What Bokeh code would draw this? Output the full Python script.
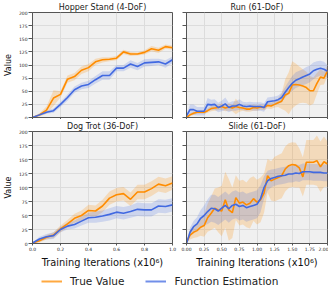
import numpy as np
from bokeh.plotting import figure
from bokeh.layouts import column, row
from bokeh.models import Range1d, FixedTicker, Legend, LegendItem
from bokeh.embed import file_html
from bokeh.resources import INLINE

# ---------------- data ----------------
x_1m = [0.00, 0.05, 0.10, 0.15, 0.20, 0.25, 0.30, 0.35, 0.40, 0.45, 0.50,
        0.55, 0.60, 0.65, 0.70, 0.75, 0.80, 0.85, 0.90, 0.95, 1.00]
x_2m = [0.00, 0.05, 0.10, 0.15, 0.20, 0.25, 0.30, 0.35, 0.40, 0.45, 0.50,
        0.55, 0.60, 0.65, 0.70, 0.75, 0.80, 0.85, 0.90, 0.95, 1.00,
        1.05, 1.10, 1.15, 1.20, 1.25, 1.30, 1.35, 1.40, 1.45, 1.50,
        1.55, 1.60, 1.65, 1.70, 1.75, 1.80, 1.85, 1.90, 1.95, 2.00]

hopper_true = [0, 5, 14, 37, 44, 73, 78, 90, 95, 106, 110, 111, 113, 125, 121, 121, 124, 131, 128, 135, 133]
hopper_true_sd = [1, 3, 7, 15, 6, 7, 7, 7, 7, 6, 5, 4, 4, 4, 4, 3, 4, 5, 5, 4, 4]
hopper_est = [0, 5, 10, 13, 25, 38, 53, 60, 63, 72, 80, 80, 94, 94, 102, 97, 104, 105, 106, 102, 110]
hopper_est_sd = [1, 2, 3, 4, 5, 6, 6, 6, 7, 7, 8, 8, 6, 6, 7, 7, 7, 7, 6, 7, 6]

run_true = [0, 5, 8, 10, 10, 10, 13, 17, 18, 19, 21, 18, 20, 18, 21, 19, 18, 16, 16, 19, 18,
            20, 19, 23, 22, 25, 28, 31, 43, 46, 62, 63, 62, 60, 57, 51, 51, 65, 77, 75, 89]
run_true_sd = [1, 3, 3, 3, 3, 3, 4, 5, 5, 5, 6, 6, 7, 6, 15, 8, 5, 5, 5, 6, 5,
               5, 5, 6, 6, 6, 8, 15, 30, 40, 45, 40, 35, 32, 30, 28, 25, 20, 15, 12, 10]
run_est = [3, 15, 15, 12, 12, 12, 25, 24, 25, 19, 22, 26, 19, 22, 22, 25, 22, 21, 22, 21, 21,
           21, 19, 30, 31, 32, 34, 38, 48, 57, 65, 71, 74, 77, 80, 83, 89, 92, 94, 92, 88]
run_est_sd = [3, 10, 10, 8, 8, 8, 12, 10, 10, 9, 10, 12, 9, 9, 9, 10, 8, 8, 8, 8, 8,
              8, 8, 8, 8, 8, 8, 9, 10, 12, 14, 15, 15, 15, 16, 16, 16, 15, 14, 14, 12]

dog_true = [1, 5, 11, 15, 26, 35, 45, 50, 59, 58, 67, 81, 87, 89, 79, 92, 92, 98, 106, 103, 108]
dog_true_sd = [1, 3, 4, 5, 6, 7, 8, 9, 10, 10, 11, 12, 12, 12, 12, 13, 13, 13, 13, 13, 12]
dog_est = [1, 8, 12, 14, 25, 31, 34, 40, 46, 47, 49, 52, 56, 54, 57, 61, 60, 60, 67, 66, 69]
dog_est_sd = [1, 4, 5, 6, 5, 6, 7, 8, 9, 10, 10, 11, 11, 11, 11, 12, 12, 12, 12, 12, 12]

slide_true = [2, 15, 20, 23, 29, 32, 46, 54, 63, 60, 58, 78, 60, 55, 82, 72, 74, 69, 72, 80, 74,
              78, 90, 121, 112, 115, 118, 121, 133, 139, 141, 140, 135, 119, 145, 145, 145, 148, 137, 146, 142]
slide_true_sd = [2, 8, 10, 12, 15, 20, 25, 30, 35, 40, 45, 50, 55, 45, 40, 40, 40, 40, 45, 40, 40,
                 40, 35, 30, 35, 40, 40, 40, 40, 40, 40, 40, 35, 35, 40, 40, 40, 45, 45, 45, 40]
slide_est = [0, 20, 30, 35, 45, 50, 57, 63, 62, 58, 63, 68, 62, 68, 70, 66, 68, 64, 66, 68, 70,
             80, 100, 112, 116, 118, 120, 121, 122, 124, 124, 126, 125, 128, 128, 128, 127, 127, 127, 126, 126]
slide_est_sd = [1, 8, 10, 12, 15, 18, 22, 24, 25, 25, 25, 25, 25, 25, 25, 25, 25, 25, 25, 25, 25,
                24, 20, 18, 16, 15, 15, 15, 15, 15, 15, 15, 15, 15, 15, 15, 15, 15, 15, 15, 15]

y_ticks = [0, 25, 50, 75, 100, 125, 150, 175, 200]
x_ticks_1m = [0.0, 0.2, 0.4, 0.6, 0.8, 1.0]
x_labels_1m = ["0.0", "0.2", "0.4", "0.6", "0.8", "1.0"]
x_ticks_2m = [0.0, 0.25, 0.5, 0.75, 1.0, 1.25, 1.5, 1.75, 2.0]
x_labels_2m = ["0.00", "0.25", "0.50", "0.75", "1.00", "1.25", "1.50", "1.75", "2.00"]

ORANGE = "#ff8c00"
BLUE = "#4169e1"
FONT = "DejaVu Sans"


def panel(title, x, true, true_sd, est, est_sd, xmax, xt, xl, show_x, show_y,
          fw, fh, bl, br):
    p = figure(frame_width=fw, frame_height=fh, output_backend="svg",
               toolbar_location=None, x_range=Range1d(0, xmax), y_range=Range1d(0, 200),
               min_border_left=bl, min_border_right=br, min_border_top=0, min_border_bottom=0,
               background_fill_color="#f0f0f0", border_fill_color="white")
    p.title.text = title
    p.title.align = "center"
    p.title.text_font = FONT
    p.title.text_font_size = "8px"
    p.title.text_font_style = "normal"
    p.title.text_color = "#222222"
    p.title.standoff = 1
    p.outline_line_color = "#555555"
    p.outline_line_width = 1
    p.grid.grid_line_color = "#dcdcdc"
    p.grid.grid_line_width = 1

    t = np.array(true, float); ts = np.array(true_sd, float)
    e = np.array(est, float); es = np.array(est_sd, float)
    p.varea(x=x, y1=t - ts, y2=t + ts, fill_color=ORANGE, fill_alpha=0.22)
    p.varea(x=x, y1=e - es, y2=e + es, fill_color=BLUE, fill_alpha=0.2)
    p.line(x=x, y=true, line_color=ORANGE, line_width=1.6)
    p.line(x=x, y=est, line_color=BLUE, line_width=1.6)

    p.xaxis.ticker = FixedTicker(ticks=xt, minor_ticks=[])
    p.yaxis.ticker = FixedTicker(ticks=y_ticks, minor_ticks=[])
    for ax in (p.xaxis[0], p.yaxis[0]):
        ax.axis_line_color = "#555555"
        ax.major_tick_line_color = "#555555"
        ax.major_tick_in = 0
        ax.minor_tick_line_color = None
        ax.major_label_text_font = FONT
        ax.major_label_text_font_size = "4.5px"
        ax.major_label_text_color = "#222222"
        ax.axis_label_text_font = FONT
        ax.axis_label_text_font_style = "normal"
        ax.axis_label_text_color = "#111111"
    p.yaxis.major_tick_out = 4
    p.yaxis.major_label_standoff = 1
    p.xaxis.major_tick_out = 2
    p.xaxis.major_label_standoff = 1

    if show_x:
        p.xaxis.major_label_overrides = {v: s for v, s in zip(xt, xl)}
        p.xaxis.axis_label = "Training Iterations (x10\u2076)"
        p.xaxis.axis_label_text_font_size = "9.8px"
        p.xaxis.axis_label_standoff = 3
    else:
        # tick marks only (shared axis): labels not drawn
        p.xaxis.major_label_text_color = None
        p.xaxis.major_label_text_font_size = "1px"
        p.xaxis.major_label_standoff = 0
    if show_y:
        p.yaxis.axis_label = "Value"
        p.yaxis.axis_label_text_font_size = "8px"
        p.yaxis.axis_label_standoff = 3
    else:
        p.yaxis.major_label_text_color = None
        p.yaxis.major_label_text_font_size = "1px"
        p.yaxis.major_label_standoff = 0
    return p


p1 = panel("Hopper Stand (4-DoF)", x_1m, hopper_true, hopper_true_sd, hopper_est, hopper_est_sd,
           1.0, x_ticks_1m, x_labels_1m, False, True, 140, 105, 20, 7)
p2 = panel("Run (61-DoF)", x_2m, run_true, run_true_sd, run_est, run_est_sd,
           2.0, x_ticks_2m, x_labels_2m, False, False, 141, 105, 7, 1)
p3 = panel("Dog Trot (36-DoF)", x_1m, dog_true, dog_true_sd, dog_est, dog_est_sd,
           1.0, x_ticks_1m, x_labels_1m, True, True, 140, 112, 20, 7)
p4 = panel("Slide (61-DoF)", x_2m, slide_true, slide_true_sd, slide_est, slide_est_sd,
           2.0, x_ticks_2m, x_labels_2m, True, False, 141, 112, 7, 1)

# legend strip: proxy lines kept outside the visible range, only their legend glyphs show
lg = figure(width=316, height=17, output_backend="svg", toolbar_location=None,
            x_range=Range1d(0, 1), y_range=Range1d(1000, 1001), min_border=0,
            outline_line_color=None)
lg.axis.visible = False
lg.grid.visible = False
r1 = lg.line(x=x_1m, y=hopper_true, line_color=ORANGE, line_width=2, line_alpha=0.75)
r2 = lg.line(x=x_1m, y=hopper_est, line_color=BLUE, line_width=2, line_alpha=0.75)
legend = Legend(items=[LegendItem(label="True Value", renderers=[r1]),
                       LegendItem(label="Function Estimation", renderers=[r2])],
                orientation="horizontal", location=(41, 0),
                label_text_font=FONT, label_text_font_size="10.5px",
                label_text_color="#222222",
                glyph_width=21, glyph_height=10, label_standoff=8, spacing=21,
                padding=0, margin=0, border_line_color=None, background_fill_alpha=0)
lg.add_layout(legend, "center")

layout = column(row(p1, p2), row(p3, p4), lg)
open("out.html", "w").write(file_html(layout, INLINE))
